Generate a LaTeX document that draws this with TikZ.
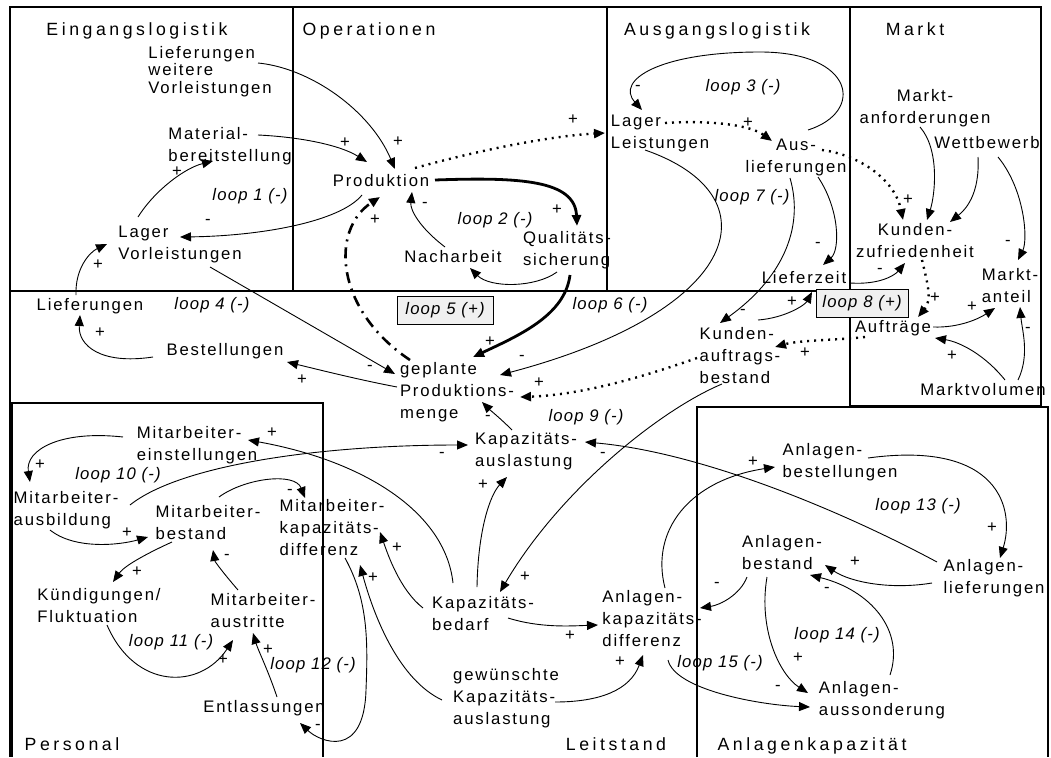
\documentclass[tikz,border=0pt]{standalone}
\usepackage{fontspec}
\setmainfont{Liberation Sans}[LetterSpace=11,ItalicFeatures={LetterSpace=7}]
\newfontfamily\secfont{Liberation Sans}[LetterSpace=20]
\usetikzlibrary{arrows.meta}

\tikzset{
  region/.style={line width=1.2pt},
  var/.style={align=left, inner sep=1pt, font=\fontsize{16.7}{22}\selectfont},
  sec/.style={anchor=base, inner sep=0pt, font=\secfont\fontsize{17.7}{22}\selectfont},
  looplbl/.style={inner sep=1pt, font=\itshape\fontsize{16.7}{20}\selectfont},
  loopbox/.style={looplbl, draw, line width=1pt, fill=black!6, minimum height=28pt},
  sgn/.style={inner sep=0pt, font=\fontsize{16.7}{20}\selectfont},
  link/.style={line width=0.9pt, -{Triangle[length=11pt,width=9pt]}},
  heavylink/.style={link, line width=2.8pt},
  dotlink/.style={link, line width=2.4pt, dash pattern=on 2pt off 5pt},
  dashdotlink/.style={link, line width=2.6pt, dash pattern=on 11pt off 6pt on 2pt off 6pt}
}

\begin{document}
\begin{tikzpicture}[x=1pt,y=-1pt]
  \path[use as bounding box, fill=white] (0,0) rectangle (1051,757);

  %% regions of the value chain
  \draw[region] (10,7) rectangle (293,291);
  \draw[region] (293,7) rectangle (607,291);
  \draw[region] (607,7) rectangle (850,291);
  \draw[region] (850,7) rectangle (1041,406);
  \draw[region] (10,291) -- (10,757);
  \draw[region] (12,757) -- (12,403) -- (323,403) -- (323,757);
  \draw[region] (697,757) -- (697,407) -- (1048,407) -- (1048,757);

  \node[sec] (tEin)  at (137,36)  {Eingangslogistik};
  \node[sec] (tOp)   at (369,36)  {Operationen};
  \node[sec] (tAus)  at (717,36)  {Ausgangslogistik};
  \node[sec] (tMkt)  at (915,36)  {Markt};
  \node[sec] (tPers) at (72,750)  {Personal};
  \node[sec] (tLeit) at (616,750) {Leitstand};
  \node[sec] (tAnl)  at (812,750) {Anlagenkapazität};

  %% variables
  \node[var, font=\fontsize{16.7}{17.5}\selectfont] (lwv) at (210,71.5) {Lieferungen\\weitere\\Vorleistungen};
  \node[var] (mb)    at (230,146) {Material-\\bereitstellung};
  \node[var] (prod)  at (381,181) {Produktion};
  \node[var] (lv)    at (180,244) {Lager\\Vorleistungen};
  \node[var] (nach)  at (453,257) {Nacharbeit};
  \node[var] (qs)    at (567,250) {Qualitäts-\\sicherung};
  \node[var] (ll)    at (660,133) {Lager\\Leistungen};
  \node[var, align=center] (ausl) at (796,157) {Aus-\\lieferungen};
  \node[var, align=center] (manf) at (925,108) {Markt-\\anforderungen};
  \node[var] (wett)  at (987,143) {Wettbewerb};
  \node[var, align=center] (kz) at (915,241) {Kunden-\\zufriedenheit};
  \node[var] (lz)    at (804,278) {Lieferzeit};
  \node[var] (mant)  at (1010,286) {Markt-\\anteil};
  \node[var] (auft)  at (893,328) {Aufträge};
  \node[var] (kab)   at (740,356) {Kunden-\\auftrags-\\bestand};
  \node[var] (lief)  at (90,306)  {Lieferungen};
  \node[var] (best)  at (225,351) {Bestellungen};
  \node[var] (gpm)   at (457,392) {geplante\\Produktions-\\menge};
  \node[var] (kapa)  at (526,451) {Kapazitäts-\\auslastung};
  \node[var] (mvol)  at (983,390) {Marktvolumen};
  \node[var] (mein)  at (197,445) {Mitarbeiter-\\einstellungen};
  \node[var] (maus)  at (66,510)  {Mitarbeiter-\\ausbildung};
  \node[var] (mbest) at (208,523) {Mitarbeiter-\\bestand};
  \node[var] (mkd)   at (332,528) {Mitarbeiter-\\kapazitäts-\\differenz};
  \node[var] (kuend) at (99,606)  {Kündigungen/\\Fluktuation};
  \node[var] (maust) at (263,611) {Mitarbeiter-\\austritte};
  \node[var] (entl)  at (264,708) {Entlassungen};
  \node[var] (kbed)  at (483,614) {Kapazitäts-\\bedarf};
  \node[var] (akd)   at (652,619) {Anlagen-\\kapazitäts-\\differenz};
  \node[var] (gka)   at (506,698) {gewünschte\\Kapazitäts-\\auslastung};
  \node[var] (abest) at (840,462) {Anlagen-\\bestellungen};
  \node[var] (abst)  at (782,553) {Anlagen-\\bestand};
  \node[var] (alief) at (994,578) {Anlagen-\\lieferungen};
  \node[var] (aauss) at (882,700) {Anlagen-\\aussonderung};

  %% loop labels
  \foreach \lx/\ly/\lt in {250/196/1, 495/220/2, 743/87/3, 212/305/4, 610/305/6,
      752/197/7, 586/417/9, 118/475/10, 171/642/11, 313/665/12, 918/506/13,
      837/635/14, 720/663/15}
    \node[looplbl] (loop\lt) at (\lx,\ly) {loop \lt\ (-)};
  \node[loopbox, minimum width=96pt] (loop5) at (445,310) {loop 5 (+)};
  \node[loopbox, minimum width=92pt] (loop8) at (862,303) {loop 8 (+)};

  %% Eingangslogistik / Operationen
  \draw[link] ([shift={(48,-8.5)}]lwv.center) .. controls (310,68) and (370,110) .. ([shift={(14,-12)}]prod.center);
  \draw[link] ([shift={(28,-11)}]mb.center) .. controls (300,137) and (340,145) .. ([shift={(-14,-19)}]prod.center);
  \draw[link] ([shift={(-19,14)}]prod.center) .. controls (340,222) and (260,236) .. ([shift={(0,-7)}]lv.center);
  \draw[link] ([shift={(-42,-27)}]lv.center) .. controls (155,190) and (185,168) .. ([shift={(-17,15)}]mb.center);
  \draw[link] ([shift={(-14,-11)}]lief.center) .. controls (75,268) and (90,252) .. ([shift={(-73,0)}]lv.center);
  \draw[link] ([shift={(-72,6)}]best.center) .. controls (100,365) and (78,345) .. ([shift={(-10,9)}]lief.center);
  \draw[link] ([shift={(-60,-5)}]gpm.center) .. controls (360,380) and (320,370) .. ([shift={(62,11)}]best.center);
  \draw[link] ([shift={(30,23)}]lv.center) -- ([shift={(-62,-18)}]gpm.center);
  \draw[heavylink] ([shift={(54,-1)}]prod.center) .. controls (520,177) and (575,180) .. ([shift={(10,-24)}]qs.center);
  \draw[link] ([shift={(-10,22)}]qs.center) .. controls (535,288) and (490,288) .. ([shift={(17,11)}]nach.center);
  \draw[link] ([shift={(-8,-10)}]nach.center) .. controls (420,228) and (410,210) .. ([shift={(31,11)}]prod.center);
  \draw[heavylink] ([shift={(3,25)}]qs.center) .. controls (565,315) and (520,335) .. ([shift={(16,-35)}]gpm.center);
  \draw[dashdotlink] ([shift={(-47,-32)}]gpm.center) .. controls (335,310) and (330,230) .. ([shift={(-1,16)}]prod.center);

  %% Ausgangslogistik / Markt
  \draw[dotlink] ([shift={(34,-13)}]prod.center) .. controls (480,150) and (550,136) .. ([shift={(-55,0)}]ll.center);
  \draw[dotlink] ([shift={(5,-10)}]ll.center) .. controls (710,120) and (750,125) .. ([shift={(-24,-16)}]ausl.center);
  \draw[link] ([shift={(12,-27)}]ausl.center) .. controls (865,112) and (855,52) .. (760,52)
              .. controls (660,52) and (615,80) .. ([shift={(-18,-23)}]ll.center);
  \draw[dotlink] ([shift={(26,-7)}]ausl.center) .. controls (860,155) and (895,180) .. ([shift={(-12,-21)}]kz.center);
  \draw[link] ([shift={(-5,19)}]manf.center) .. controls (940,150) and (935,195) .. ([shift={(12,-21)}]kz.center);
  \draw[link] ([shift={(-9,14)}]wett.center) .. controls (980,195) and (965,210) .. ([shift={(35,-19)}]kz.center);
  \draw[link] ([shift={(11,14)}]wett.center) .. controls (1025,190) and (1028,240) .. ([shift={(8,-26)}]mant.center);
  \draw[link] ([shift={(22,20)}]ausl.center) .. controls (840,210) and (840,250) .. ([shift={(19,-13)}]lz.center);
  \draw[link] ([shift={(-6,21)}]ausl.center) .. controls (805,230) and (780,280) .. ([shift={(-20,-33)}]kab.center);
  \draw[link] ([shift={(-15,17)}]ll.center) .. controls (775,195) and (745,310) .. ([shift={(43,-17)}]gpm.center);
  \draw[link] ([shift={(46,5)}]lz.center) .. controls (880,285) and (895,275) .. ([shift={(-10,22)}]kz.center);
  \draw[link] ([shift={(18,-36)}]kab.center) .. controls (785,318) and (805,305) .. ([shift={(8,14)}]lz.center);
  \draw[dotlink] ([shift={(7,19)}]kz.center) .. controls (928,285) and (932,300) .. ([shift={(25,-11)}]auft.center);
  \draw[dotlink] ([shift={(-28,9)}]auft.center) .. controls (840,340) and (800,340) .. ([shift={(35,-9)}]kab.center);
  \draw[dotlink] ([shift={(-43,2)}]kab.center) .. controls (640,378) and (580,395) .. ([shift={(63,5)}]gpm.center);
  \draw[link] ([shift={(40,-1)}]auft.center) .. controls (960,328) and (980,318) .. ([shift={(-15,22)}]mant.center);
  \draw[link] ([shift={(22,-10)}]mvol.center) .. controls (985,355) and (960,342) .. ([shift={(42,10)}]auft.center);
  \draw[link] ([shift={(35,-10)}]mvol.center) .. controls (1030,355) and (1022,330) .. ([shift={(10,21)}]mant.center);

  %% Leitstand / Personal
  \draw[link] ([shift={(-14,-21)}]kapa.center) .. controls (500,418) and (490,410) .. ([shift={(25,10)}]gpm.center);
  \draw[link] ([shift={(64,-5)}]maus.center) .. controls (180,465) and (320,445) .. ([shift={(-58,-6)}]kapa.center);
  \draw[link] ([shift={(-30,-31)}]kbed.center) .. controls (445,510) and (360,460) .. ([shift={(51,-5)}]mein.center);
  \draw[link] ([shift={(-74,-8)}]mein.center) .. controls (60,430) and (25,450) .. ([shift={(-36,-28)}]maus.center);
  \draw[link] ([shift={(-16,20)}]maus.center) .. controls (75,550) and (120,545) .. ([shift={(-60,14)}]mbest.center);
  \draw[link] ([shift={(11,-26)}]mbest.center) .. controls (245,478) and (295,472) .. ([shift={(-27,-30)}]mkd.center);
  \draw[link] ([shift={(-36,19)}]mbest.center) .. controls (150,552) and (125,565) .. ([shift={(14,-24)}]kuend.center);
  \draw[link] ([shift={(-25,-21)}]maust.center) .. controls (225,575) and (215,562) .. ([shift={(5,27)}]mbest.center);
  \draw[link] ([shift={(8,19)}]kuend.center) .. controls (135,690) and (200,690) .. ([shift={(-30,29)}]maust.center);
  \draw[link] ([shift={(13,-11)}]entl.center) .. controls (268,670) and (258,650) .. ([shift={(-10,22)}]maust.center);
  \draw[link] ([shift={(13,30)}]mkd.center) .. controls (368,600) and (368,640) .. (366,690)
              .. controls (364,760) and (320,742) .. ([shift={(36,15)}]entl.center);
  \draw[link] ([shift={(-60,-6)}]kbed.center) .. controls (400,590) and (388,555) .. ([shift={(48,4)}]mkd.center);
  \draw[link] ([shift={(-64,2)}]gka.center) .. controls (400,680) and (375,620) .. ([shift={(28,37)}]mkd.center);
  \draw[link] ([shift={(-6,-27)}]kbed.center) .. controls (478,530) and (490,495) .. ([shift={(-19,26)}]kapa.center);
  \draw[link] ([shift={(25,4)}]kbed.center) .. controls (540,628) and (570,626) .. ([shift={(-54,6)}]akd.center);
  \draw[link] ([shift={(49,4)}]gka.center) .. controls (600,702) and (630,690) .. ([shift={(-9,36)}]akd.center);
  \draw[link] ([shift={(-18,28)}]kab.center) .. controls (660,410) and (560,490) .. ([shift={(17,-22)}]kbed.center);

  %% Anlagenkapazitaet
  \draw[link] ([shift={(-57,-16)}]alief.center) .. controls (840,510) and (700,452) .. ([shift={(59,-9)}]kapa.center);
  \draw[link] ([shift={(13,-31)}]akd.center) .. controls (650,530) and (690,480) .. ([shift={(-65,5)}]abest.center);
  \draw[link] ([shift={(28,-4)}]abest.center) .. controls (1000,440) and (1015,510) .. ([shift={(6,-20)}]alief.center);
  \draw[link] ([shift={(-62,5)}]alief.center) .. controls (890,590) and (850,582) .. ([shift={(43,12)}]abst.center);
  \draw[link] ([shift={(8,-25)}]aauss.center) .. controls (905,630) and (870,590) .. ([shift={(28,22)}]abst.center);
  \draw[link] ([shift={(-15,24)}]abst.center) .. controls (758,630) and (780,675) .. ([shift={(-74,-7)}]aauss.center);
  \draw[link] ([shift={(-35,24)}]abst.center) .. controls (740,595) and (720,605) .. ([shift={(48,-11)}]akd.center);
  \draw[link] ([shift={(16,41)}]akd.center) .. controls (675,690) and (760,705) .. ([shift={(-72,7)}]aauss.center);

  %% polarity signs
  \foreach \sx/\sy/\sg [count=\i] in {398/142/+, 345/143/+, 208/222/-, 177/172/+, 98/265/+,
      100/333/+, 302/380/+, 370/368/-, 557/210/+, 425/205/-, 490/342/+, 375/220/+,
      573/120/+, 748/123/+, 638/88/-, 908/200/+, 1008/243/-, 818/245/-, 743/312/-,
      522/358/-, 880/271/-, 792/302/+, 935/298/+, 805/353/+, 539/383/+, 972/307/+,
      952/356/+, 1028/330/-, 488/418/-, 442/455/-, 272/433/+, 40/465/+, 127/533/+,
      290/492/-, 137/572/+, 227/557/-, 223/660/+, 268/650/+, 318/727/-, 397/548/+,
      373/578/+, 483/485/+, 570/636/+, 620/662/+, 525/577/+, 603/455/-, 753/462/+,
      992/528/+, 855/562/+, 827/590/-, 798/658/+, 717/585/-, 778/688/-}
    \node[sgn] (sg\i) at (\sx,\sy) {\sg};
\end{tikzpicture}
\end{document}
